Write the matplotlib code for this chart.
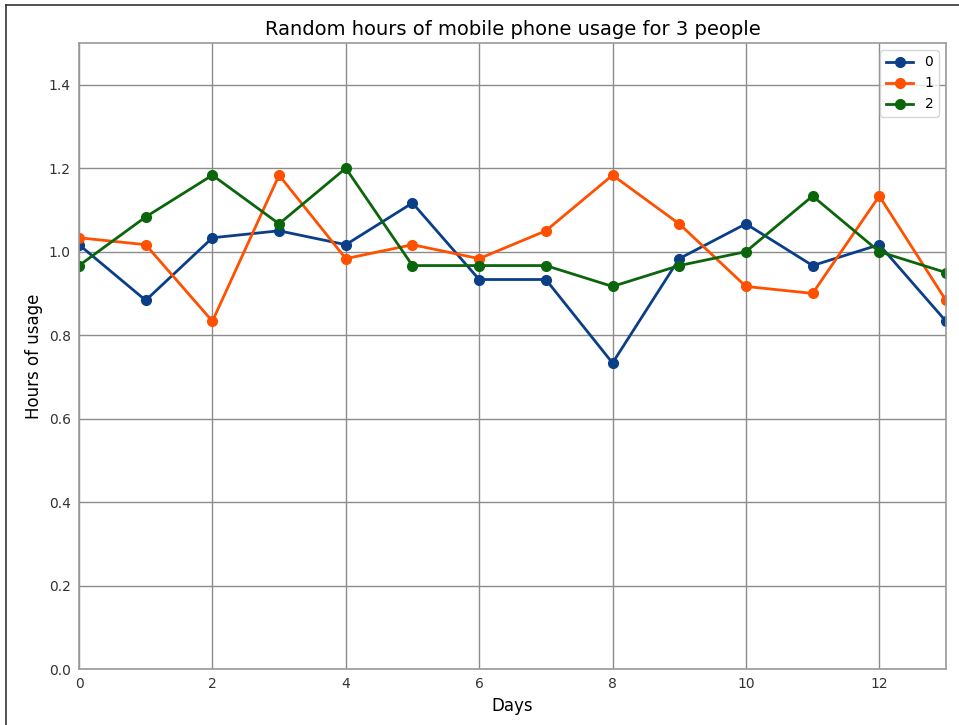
import matplotlib
matplotlib.use("Agg")
import matplotlib.pyplot as plt
from matplotlib.lines import Line2D

days = list(range(14))
person0 = [1.0167, 0.8833, 1.0333, 1.05, 1.0167, 1.1167, 0.9333, 0.9333, 0.7333, 0.9833, 1.0667, 0.9667, 1.0167, 0.8333]
person1 = [1.0333, 1.0167, 0.8333, 1.1833, 0.9833, 1.0167, 0.9833, 1.05, 1.1833, 1.0667, 0.9167, 0.9, 1.1333, 0.8833]
person2 = [0.9667, 1.0833, 1.1833, 1.0667, 1.2, 0.9667, 0.9667, 0.9667, 0.9167, 0.9667, 1.0, 1.1333, 1.0, 0.95]
labels = ["0", "1", "2"]
colors = ["#0a3f88", "#ff5000", "#0b660b"]

fig = plt.figure(figsize=(9.59, 7.25), dpi=100)
ax = fig.add_axes([0.0824, 0.0772, 0.9040, 0.8635])

for vals, lab, c in zip([person0, person1, person2], labels, colors):
    ax.plot(days, vals, marker="o", color=c, linewidth=2, markersize=7, label=lab)

ax.set_xlim(0, 13)
ax.set_ylim(0, 1.5)
ax.set_yticks([0.0, 0.2, 0.4, 0.6, 0.8, 1.0, 1.2, 1.4])
ax.set_xticks([0, 2, 4, 6, 8, 10, 12])
ax.grid(True, color="#8c8c8c", linewidth=1)
ax.set_axisbelow(True)
for s in ax.spines.values():
    s.set_color("#9a9a9a")
    s.set_linewidth(1.2)
ax.tick_params(length=0, labelsize=10, colors="#333333", pad=6)
ax.set_title("Random hours of mobile phone usage for 3 people", fontsize=14)
ax.set_xlabel("Days", fontsize=12)
ax.set_ylabel("Hours of usage", fontsize=12)
ax.legend(loc="upper right", fontsize=10)

fig.add_artist(Line2D([6/959, 6/959], [0, 1 - 5/725], transform=fig.transFigure, color="#333333", linewidth=1.2))
fig.add_artist(Line2D([6/959, 1], [1 - 5/725, 1 - 5/725], transform=fig.transFigure, color="#333333", linewidth=1.2))

fig.savefig("out.png", dpi=100)
